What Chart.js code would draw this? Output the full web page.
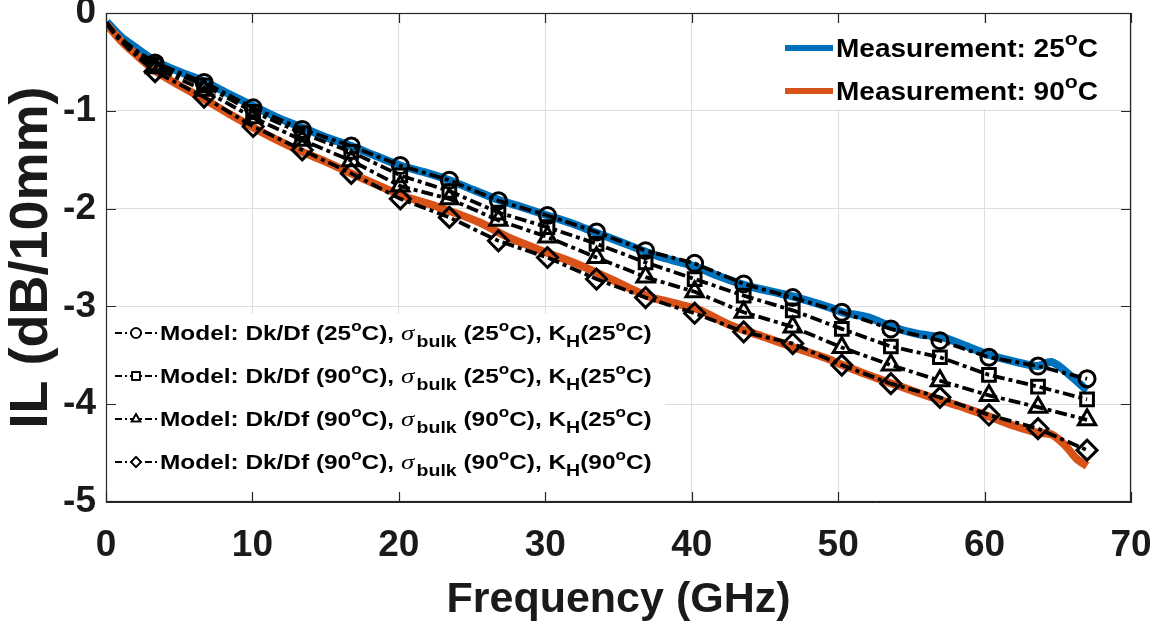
<!DOCTYPE html>
<html><head><meta charset="utf-8">
<script src="https://cdn.jsdelivr.net/npm/chart.js@4/dist/chart.umd.min.js"></script>
<style>html,body{margin:0;padding:0;background:#fff;}canvas{display:block;}</style>
</head><body>
<canvas id="c" width="1164" height="630"></canvas>
<script>
// ---------------- data ----------------
const xTicks = [0, 10, 20, 30, 40, 50, 60, 70];
const yTicks = [0, -1, -2, -3, -4, -5];

const meas25Freq = [0.05, 1, 2, 3.35, 5, 6.7, 8.4, 10.05, 11.7, 13.4, 15, 16.75, 18.4, 20.1, 21.8, 23.45, 25.1, 26.8, 28.5, 30.15, 31.8, 33.5, 34.6, 36.85, 38.0, 40.2, 41.5, 43.8, 45.5, 47.2, 49.4, 50.3, 52.0, 53.7, 55.4, 57.2, 58.3, 60.4, 62.2, 63.6, 64.6, 65.8, 67.0];
const meas25IL   = [-0.09, -0.24, -0.35, -0.49, -0.60, -0.70, -0.83, -0.95, -1.07, -1.17, -1.27, -1.36, -1.46, -1.56, -1.63, -1.71, -1.81, -1.91, -1.99, -2.07, -2.15, -2.25, -2.31, -2.44, -2.50, -2.59, -2.67, -2.79, -2.85, -2.91, -3.01, -3.06, -3.11, -3.21, -3.28, -3.32, -3.38, -3.50, -3.57, -3.61, -3.57, -3.70, -3.86];

const meas90Freq = [0.05, 1, 2, 3.35, 5, 6.7, 8.4, 10.05, 11.7, 13.4, 15, 16.75, 18.4, 20.1, 22.8, 25.5, 27.4, 30.1, 32.4, 34.6, 36.9, 38.6, 40.4, 42.6, 44.9, 47.2, 49.2, 50.3, 52.0, 53.7, 55.4, 57.0, 58.7, 60.4, 62.0, 63.6, 64.6, 65.5, 66.3, 67.0];
const meas90IL   = [-0.12, -0.28, -0.42, -0.59, -0.74, -0.88, -1.03, -1.17, -1.30, -1.42, -1.52, -1.64, -1.75, -1.86, -1.99, -2.14, -2.29, -2.45, -2.58, -2.73, -2.89, -2.96, -3.03, -3.19, -3.31, -3.43, -3.53, -3.60, -3.70, -3.79, -3.88, -3.96, -4.04, -4.13, -4.22, -4.29, -4.31, -4.42, -4.56, -4.63];

const modelFreq = [0.05, 0.7, 1.5, 2.4, 3.35, 6.7, 10.05, 13.4, 16.75, 20.1, 23.45, 26.8, 30.15, 33.5, 36.85, 40.2, 43.55, 46.9, 50.25, 53.6, 56.95, 60.3, 63.65, 67.0];
const modelA_IL = [-0.10, -0.22, -0.32, -0.42, -0.51, -0.71, -0.97, -1.19, -1.36, -1.56, -1.71, -1.92, -2.07, -2.24, -2.43, -2.56, -2.77, -2.91, -3.06, -3.23, -3.35, -3.52, -3.61, -3.74];
const modelB_IL = [-0.10, -0.22, -0.33, -0.43, -0.53, -0.74, -1.01, -1.23, -1.42, -1.66, -1.82, -2.04, -2.19, -2.36, -2.55, -2.72, -2.89, -3.04, -3.23, -3.41, -3.52, -3.70, -3.82, -3.95];
const modelC_IL = [-0.11, -0.23, -0.34, -0.45, -0.56, -0.79, -1.07, -1.30, -1.51, -1.77, -1.90, -2.12, -2.29, -2.50, -2.70, -2.85, -3.06, -3.21, -3.42, -3.60, -3.76, -3.91, -4.03, -4.16];
const modelD_IL = [-0.11, -0.24, -0.36, -0.48, -0.60, -0.86, -1.16, -1.40, -1.64, -1.90, -2.09, -2.33, -2.50, -2.72, -2.91, -3.07, -3.26, -3.38, -3.60, -3.79, -3.93, -4.11, -4.25, -4.47];

const measTemps = ['25', '90'];
// model temperatures: [Dk/Df, sigma_bulk, K_H]
const modelTemps = [['25', '25', '25'], ['90', '25', '25'], ['90', '90', '25'], ['90', '90', '90']];

const xTitle = 'Frequency (GHz)';
const yTitle = 'IL (dB/10mm)';
// ----------------------------------------------------------------

const pts = (xs, ys) => xs.map((v, i) => ({x: v, y: ys[i]}));
const measLabel = t => 'Measurement: ' + t + '°C';
const modelLabel = m => 'Model: Dk/Df (' + m[0] + '°C), σbulk (' + m[1] + '°C), KH(' + m[2] + '°C)';

const BLUE = '#0072BD', ORANGE = '#D95319', INK = '#1a1a1a';
const SANS = '"Liberation Sans", Arial, sans-serif';
const SERIF = '"Liberation Serif", "Times New Roman", serif';
const modelStyles = ['circle', 'rect', 'triangle', 'rectRot'];
const modelRadius = [8, 9, 10, 10];
const modelData = [modelA_IL, modelB_IL, modelC_IL, modelD_IL];

const datasets = [
  {label: measLabel(measTemps[0]), data: pts(meas25Freq, meas25IL), borderColor: BLUE, borderWidth: 8, pointRadius: 0, tension: 0.3, order: 10},
  {label: measLabel(measTemps[1]), data: pts(meas90Freq, meas90IL), borderColor: ORANGE, borderWidth: 8, pointRadius: 0, tension: 0.3, order: 9},
];
modelData.forEach((d, k) => {
  datasets.push({
    label: modelLabel(modelTemps[k]),
    data: pts(modelFreq, d),
    borderColor: '#000', borderWidth: 3.8, borderDash: [12, 4, 4, 4],
    tension: 0, order: 4 - k,
    pointStyle: modelStyles[k],
    pointRadius: c => (c.raw && c.raw.x > 3 ? modelRadius[k] : 0),
    pointBorderWidth: 3, pointBorderColor: '#000', pointBackgroundColor: 'rgba(0,0,0,0)'
  });
});

function drawRich(ctx, x, y, parts, sx) {
  ctx.save();
  ctx.translate(x, y);
  ctx.scale(sx, 1);
  ctx.textBaseline = 'alphabetic';
  ctx.textAlign = 'left';
  ctx.fillStyle = '#000';
  let cx = 0;
  for (const p of parts) {
    ctx.font = p.font;
    ctx.fillText(p.t, cx, p.dy || 0);
    cx += ctx.measureText(p.t).width + (p.gap || 0);
  }
  ctx.restore();
}

function drawMarker(ctx, style, x, y, r) {
  ctx.save();
  ctx.setLineDash([]);
  ctx.lineWidth = 1.6;
  ctx.strokeStyle = '#000';
  Chart.helpers.drawPoint(ctx, {pointStyle: style, radius: r, borderWidth: 1.6}, x, y);
  ctx.stroke();
  ctx.restore();
}

const overlay = {
  id: 'overlay',
  afterDatasetsDraw(chart) {
    const ctx = chart.ctx, a = chart.chartArea;
    ctx.save();
    // ---- top-right legend ----
    const tl = {x0: a.right - 356, y0: a.top + 10, x1: a.right - 3, y1: a.top + 96};
    ctx.fillStyle = '#fff';
    ctx.fillRect(tl.x0, tl.y0, tl.x1 - tl.x0, tl.y1 - tl.y0);
    const fB = 'bold 25px ' + SANS, fS = 'bold 19px ' + SANS;
    [BLUE, ORANGE].forEach((col, i) => {
      const cy = tl.y0 + 25 + i * 43;
      ctx.strokeStyle = col; ctx.lineWidth = 6; ctx.setLineDash([]);
      ctx.beginPath(); ctx.moveTo(tl.x0 + 10, cy); ctx.lineTo(tl.x0 + 58, cy); ctx.stroke();
      drawRich(ctx, tl.x0 + 61, cy + 9, [
        {t: 'Measurement: ' + measTemps[i], font: fB},
        {t: 'o', font: fS, dy: -12},
        {t: 'C', font: fB}
      ], 1.12);
    });
    // ---- bottom-left legend ----
    const bl = {x0: a.left + 1, y0: a.top + 301, x1: a.left + 559, y1: a.bottom - 1};
    ctx.fillStyle = '#fff';
    ctx.fillRect(bl.x0, bl.y0, bl.x1 - bl.x0, bl.y1 - bl.y0);
    const mB = 'bold 20px ' + SANS, mSup = 'bold 14px ' + SANS, mSub = 'bold 16px ' + SANS, mSig = 'italic 22px ' + SERIF;
    modelTemps.forEach((m, i) => {
      const cy = bl.y0 + 19 + i * 43;
      ctx.strokeStyle = '#000'; ctx.lineWidth = 2.2; ctx.setLineDash([7, 3, 2, 3]);
      ctx.beginPath(); ctx.moveTo(bl.x0 + 8, cy); ctx.lineTo(bl.x0 + 51, cy); ctx.stroke();
      drawMarker(ctx, modelStyles[i], bl.x0 + 29, cy, modelStyles[i] === 'rect' ? 5.5 : 5);
      drawRich(ctx, bl.x0 + 53, cy + 7, [
        {t: 'Model: Dk/Df (' + m[0], font: mB},
        {t: 'o', font: mSup, dy: -9},
        {t: 'C), ', font: mB},
        {t: 'σ', font: mSig, gap: 2},
        {t: 'bulk', font: mSub, dy: 7},
        {t: ' (' + m[1], font: mB},
        {t: 'o', font: mSup, dy: -9},
        {t: 'C), K', font: mB},
        {t: 'H', font: mSub, dy: 7},
        {t: '(' + m[2], font: mB},
        {t: 'o', font: mSup, dy: -9},
        {t: 'C)', font: mB}
      ], 1.22);
    });
    ctx.restore();
  },
  afterDraw(chart) {
    const ctx = chart.ctx, a = chart.chartArea, sx = chart.scales.x, sy = chart.scales.y;
    ctx.save();
    ctx.strokeStyle = '#262626'; ctx.lineWidth = 1.2; ctx.setLineDash([]);
    ctx.strokeRect(a.left + 0.5, a.top + 0.5, a.right - a.left - 1, a.bottom - a.top - 1);
    const L = 10;
    ctx.beginPath();
    xTicks.forEach(v => {
      const px = Math.round(sx.getPixelForValue(v)) + 0.5;
      ctx.moveTo(px, a.bottom); ctx.lineTo(px, a.bottom - L);
      ctx.moveTo(px, a.top); ctx.lineTo(px, a.top + L);
    });
    yTicks.forEach(v => {
      const py = Math.round(sy.getPixelForValue(v)) + 0.5;
      ctx.moveTo(a.left, py); ctx.lineTo(a.left + L, py);
      ctx.moveTo(a.right, py); ctx.lineTo(a.right - L, py);
    });
    ctx.stroke();
    ctx.restore();
  }
};

new Chart(document.getElementById('c'), {
  type: 'line',
  data: {datasets},
  options: {
    responsive: false, animation: false, devicePixelRatio: 1,
    layout: {padding: {top: 12, right: 33, left: 0, bottom: 0}},
    plugins: {legend: {display: false}, tooltip: {enabled: false}},
    elements: {line: {fill: false, borderCapStyle: 'butt', borderJoinStyle: 'round'}},
    scales: {
      x: {
        type: 'linear', min: 0, max: 70,
        afterBuildTicks: s => { s.ticks = xTicks.map(v => ({value: v})); },
        ticks: {font: {family: SANS, size: 37, weight: 'bold'}, color: INK, padding: 22, maxRotation: 0, autoSkip: false},
        grid: {color: '#dedede', lineWidth: 1, drawTicks: false},
        border: {display: true, color: '#262626'},
        title: {display: true, text: xTitle, font: {family: SANS, size: 43, weight: 'bold'}, color: INK, padding: {top: 0, bottom: 4}},
        afterFit: s => { s.height = 128; s.paddingLeft = 0; s.paddingRight = 0; }
      },
      y: {
        type: 'linear', min: -5, max: 0,
        afterBuildTicks: s => { s.ticks = yTicks.map(v => ({value: v})); },
        ticks: {font: {family: SANS, size: 37, weight: 'bold'}, color: INK, padding: 10, autoSkip: false},
        grid: {color: '#dedede', lineWidth: 1, drawTicks: false},
        border: {display: true, color: '#262626'},
        title: {display: true, text: yTitle, font: {family: SANS, size: 54, weight: 'bold'}, color: INK, padding: {top: 0, bottom: 0}},
        afterFit: s => { s.width = 106; s.paddingTop = 0; s.paddingBottom = 0; }
      }
    }
  },
  plugins: [overlay]
});
</script>
</body></html>
